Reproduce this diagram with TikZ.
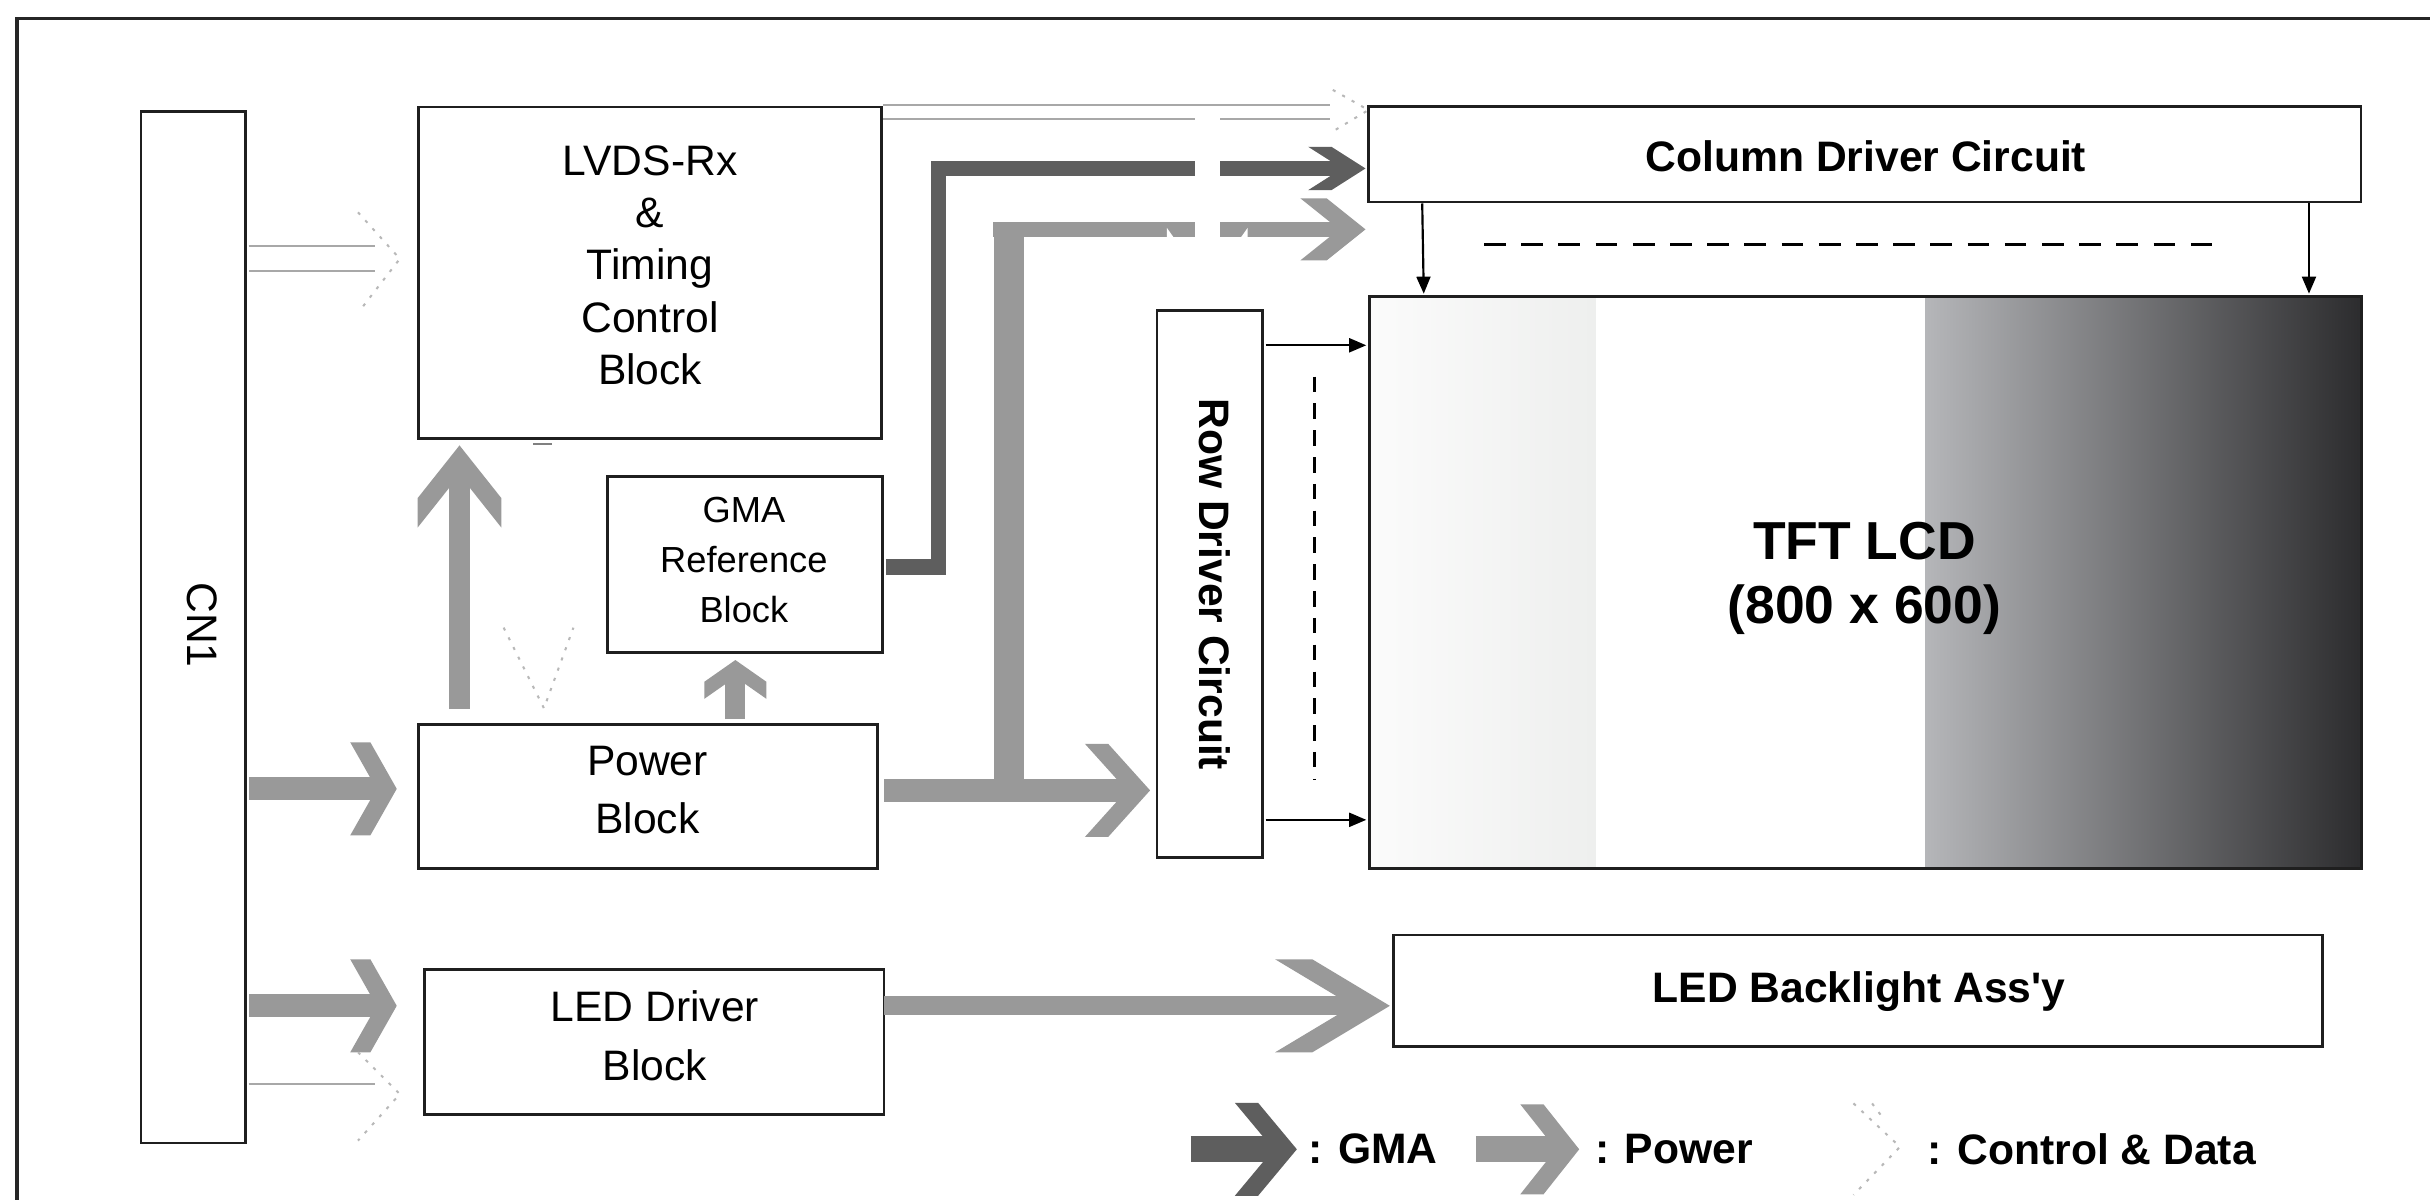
\documentclass[tikz,border=0pt]{standalone}
\usepackage{fontspec}
\setmainfont{Liberation Sans}
\newfontfamily\lsans{Liberation Sans}
\usetikzlibrary{arrows.meta,fit}
\definecolor{pwc}{HTML}{999999}
\definecolor{gmc}{HTML}{5E5E5E}
\definecolor{ctc}{HTML}{A8A8A8}
\definecolor{fnt}{HTML}{B8B8B8}
\definecolor{lbA}{HTML}{FBFBFB}
\definecolor{lbB}{HTML}{EEEFEE}
\definecolor{dbA}{HTML}{B5B6B9}
\definecolor{dbB}{HTML}{2C2C2E}
\pgfdeclarearrow{
  name = Chev,
  parameters = {\the\pgfarrowlength,\the\pgfarrowwidth,\the\pgfarrowinset},
  setup code = {
    \pgfarrowssettipend{0pt}
    \pgfarrowssetlineend{-\pgfarrowinset}
    \pgfarrowssetbackend{-\pgfarrowlength}
    \pgfarrowssavethe\pgfarrowlength
    \pgfarrowssavethe\pgfarrowwidth
    \pgfarrowssavethe\pgfarrowinset
  },
  drawing code = {
    \pgfpathmoveto{\pgfqpoint{0pt}{0pt}}
    \pgfpathlineto{\pgfpointadd{\pgfqpoint{-\pgfarrowlength}{.5\pgfarrowwidth}}{\pgfqpoint{\pgfarrowinset}{0pt}}}
    \pgfpathlineto{\pgfqpoint{-\pgfarrowlength}{.5\pgfarrowwidth}}
    \pgfpathlineto{\pgfqpoint{-\pgfarrowinset}{0pt}}
    \pgfpathlineto{\pgfqpoint{-\pgfarrowlength}{-.5\pgfarrowwidth}}
    \pgfpathlineto{\pgfpointadd{\pgfqpoint{-\pgfarrowlength}{-.5\pgfarrowwidth}}{\pgfqpoint{\pgfarrowinset}{0pt}}}
    \pgfpathclose
    \pgfusepathqfill
  },
  defaults = {length=30pt, width=60pt, inset=13pt}
}
\tikzset{
  box/.style={draw=black!88, line width=1.8pt, inner sep=0pt},
  txt/.style={inner sep=0pt, align=center, font=\fontsize{27.5}{33.6}\selectfont},
  btxt/.style={inner sep=0pt, align=center, font=\fontsize{27.5}{33}\selectfont\bfseries},
  pw/.style={draw=pwc, line width=#1},
  gm/.style={draw=gmc, line width=#1},
  ctl/.style={draw=ctc, line width=1.3pt},
  faint/.style={draw=fnt, line width=1.3pt, dash pattern=on 2pt off 5pt},
  tar/.style={draw=black, line width=1.4pt, -{Triangle[length=11pt,width=9pt]}},
  frame/.style={draw=black!85, line width=2.4pt},
}
\begin{document}
\begin{tikzpicture}[x=1pt,y=-1pt]
\useasboundingbox (0,0) rectangle (1568,774.3);
\fill[white] (0,0) rectangle (1568,774.3);
% outer frame
\draw[frame] (11,12) rectangle (1620,830);
% LCD shading bands
\shade[left color=lbA, right color=lbB] (883.5,191.4) rectangle (1029.5,560.5);
\shade[left color=dbA, right color=dbB] (1242.6,191.4) rectangle (1523.6,560.5);
% boxes
\node[box, fit={(91,72) (158.5,737.5)}] (cn1) {};
\node[box, fit={(270,69) (569,283)}] (lvds) {};
\node[box, fit={(392,307.5) (569.3,421)}] (gma) {};
\node[box, fit={(270,467.5) (566,560.5)}] (power) {};
\node[box, fit={(273.7,625.5) (570.4,719)}] (led) {};
\node[box, fit={(746.6,200.5) (814.8,553.4)}] (row) {};
\node[box, fit={(883,68.7) (1523.5,130.4)}] (col) {};
\node[box, fit={(883.5,191.4) (1523.6,560.5)}] (lcd) {};
\node[box, fit={(899.2,603.3) (1498.4,675.4)}] (bl) {};
% texts
\node[txt, rotate=-90] (cn1t) at (130.7,403.3) {CN1};
\node[txt] (lvdst) at (419.5,171.2) {LVDS-Rx\\\&\\Timing\\Control\\Block};
\node[txt, font=\fontsize{23.4}{32.4}\selectfont] (gmat) at (480,361.4) {GMA\\Reference\\Block};
\node[txt, font=\fontsize{27.5}{37.8}\selectfont] (powert) at (417.8,509.8) {Power\\Block};
\node[txt, font=\fontsize{27.5}{38.3}\selectfont] (ledt) at (422.6,668.5) {LED Driver\\Block};
\node[btxt, rotate=-90] (rowt) at (784,377) {Row Driver Circuit};
\node[btxt] (colt) at (1204,100.6) {Column Driver Circuit};
\node[btxt, font=\fontsize{34.5}{41.5}\selectfont\bfseries] (lcdt) at (1203,373) {TFT LCD\\(800 x 600)};
\node[btxt] (blt) at (1199.5,639.5) {LED Backlight Ass{\lsans'}y};
% power arrows
\coordinate (a1) at (256,509);
\coordinate (a2) at (256,649);
\draw[pw=15pt, -{Chev[length=30pt,width=60pt,inset=13pt]}] ([xshift=1.5pt]cn1.east |- a1) -- (a1);
\draw[pw=15pt, -{Chev[length=30pt,width=60pt,inset=13pt]}] ([xshift=1.5pt]cn1.east |- a2) -- (a2);
\coordinate (a3) at (296.5,457.5);
\draw[pw=13.5pt, -{Chev[length=53pt,width=54pt,inset=19pt]}] (a3) -- ([yshift=-3.5pt]a3 |- lvds.south);
\coordinate (a4) at (474.5,464);
\draw[pw=13pt, -{Chev[length=25pt,width=40pt,inset=11pt]}] (a4) -- ([yshift=-4pt]a4 |- gma.south);
\coordinate (a5) at (570.5,510);
\draw[pw=14.5pt, -{Chev[length=42pt,width=60pt,inset=15pt]}] (a5) -- ([xshift=-3.6pt]row.west |- a5);
\coordinate (b0) at (651,510);
\coordinate (b1) at (651,143);
\draw[pw=19pt] (b0) -- (b1);
\coordinate (b2) at (641,148);
\draw[pw=10pt, -{Chev[length=42pt,width=40pt,inset=17pt]}] (b2) -- ([xshift=-1pt]col.west |- b2);
\coordinate (a6) at (570.4,649);
\draw[pw=12.5pt, -{Chev[length=74pt,width=60pt,inset=24pt]}] (a6) -- ([xshift=-1.5pt]bl.west |- a6);
% GMA arrow
\coordinate (g1) at (571.6,366);
\draw[gm=10pt, -{Chev[length=37pt,width=28pt,inset=15pt]}] (g1) -- (605.5,366) -- (605.5,108.7) -- ([xshift=-1pt]col.west |- 0,108.7);
% control & data (hollow, faint)
\draw[ctl, double=white, double distance=14.4pt] ([xshift=1pt]cn1.east |- 0,166.85) -- (242,166.85);
\draw[ctl, double=white, double distance=7.7pt] (lvds.east |- 0,72) -- (858,72);
\draw[ctl] ([xshift=1pt]cn1.east |- 0,699.5) -- (242,699.5);
\draw[faint] (231,137) -- (258,167) -- (234,198);
\draw[faint] (860,58) -- (883,71) -- (858,86);
\draw[faint] (231,679) -- (258,706) -- (231,736);
\draw[faint] (325,405) -- (351,457) -- (370,405);
\coordinate (w1) at (779,72);
\draw[white, line width=16pt, -{Chev[length=50pt,width=52pt,inset=13pt]}] (w1) -- ([yshift=2.5pt]w1 |- row.north);
\draw[draw=gray, line width=1.5pt] (344,286.5) -- (356,286.5);
% thin arrows
\draw[tar] ([xshift=1pt]row.east |- 0,222.8) -- ([xshift=-1pt]lcd.west |- 0,222.8);
\draw[tar] ([xshift=1pt]row.east |- 0,529) -- ([xshift=-1pt]lcd.west |- 0,529);
\draw[tar] ([xshift=35.6pt]col.south west) -- ([xshift=36.1pt,yshift=1pt]lcd.north west);
\draw[tar] ([xshift=-34.5pt]col.south east) -- ([xshift=-34.6pt,yshift=1pt]lcd.north east);
\draw[black, line width=2pt, dash pattern=on 14pt off 10pt] (957.6,157.6) -- (1435,157.6);
\draw[black, line width=1.8pt, dash pattern=on 10pt off 7.3pt] (848,243) -- (848,503.4);
% legend
\coordinate (lg1) at (768.4,741.6);
\coordinate (lg2) at (836.8,741.6);
\draw[gm=17pt, -{Chev[length=40pt,width=60pt,inset=15pt]}] (lg1) -- (lg2);
\node[btxt, anchor=west] (lgt1) at (844,741.6) {: GMA};
\coordinate (lg3) at (952.3,741.6);
\coordinate (lg4) at (1019,741.6);
\draw[pw=17pt, -{Chev[length=38pt,width=58pt,inset=15pt]}] (lg3) -- (lg4);
\node[btxt, anchor=west] (lgt2) at (1029,741.6) {: Power};
\draw[faint] (1196,712) -- (1226,740) -- (1196,771);
\draw[faint] (1208,712) -- (1214,720);
\node[btxt, anchor=west] (lgt3) at (1243.5,741.6) {: Control \& Data};
\end{tikzpicture}
\end{document}
